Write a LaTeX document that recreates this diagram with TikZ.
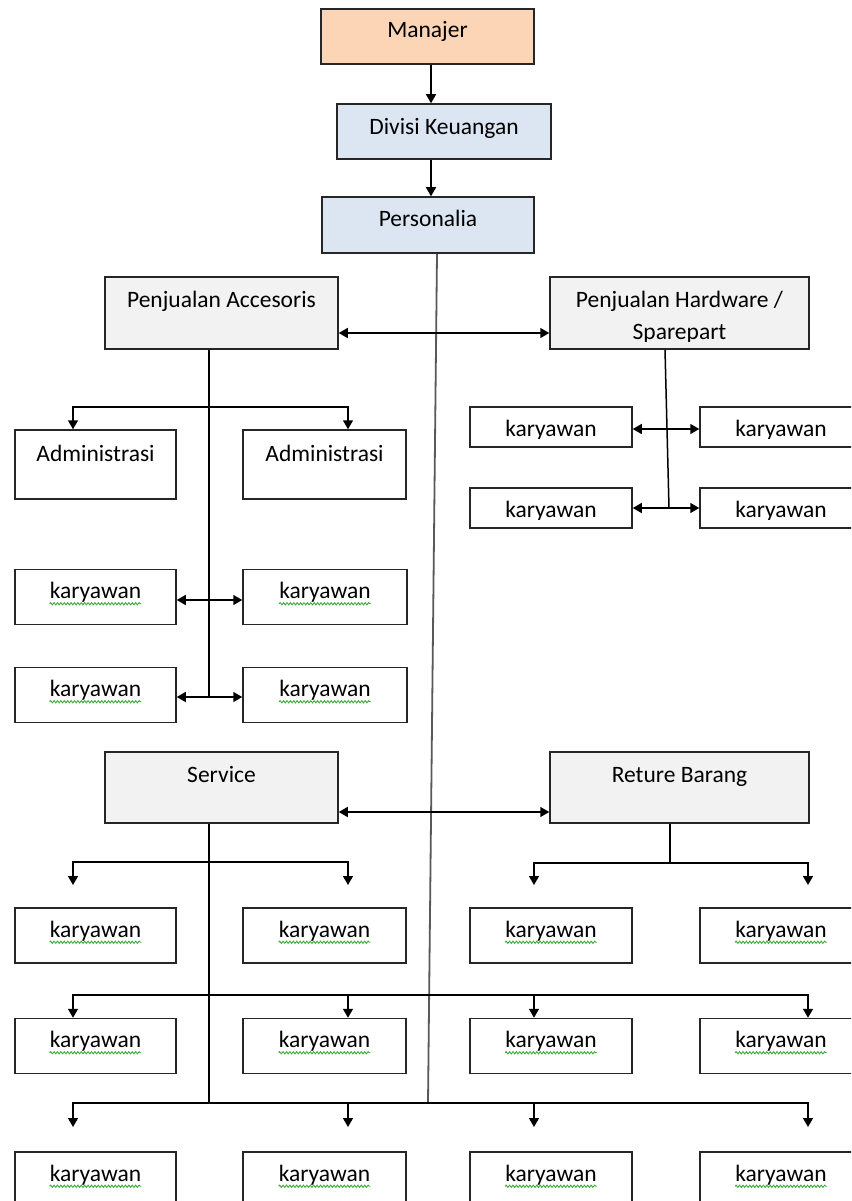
\documentclass[tikz,border=0pt]{standalone}
\usepackage{fontspec}
\setmainfont{Carlito}
\usetikzlibrary{arrows.meta,decorations.pathmorphing}
\definecolor{peach}{HTML}{FBD5B5}
\definecolor{lblue}{HTML}{DCE6F2}
\definecolor{lgray}{HTML}{F2F2F2}
\definecolor{sqgreen}{HTML}{3DAA3D}
\tikzset{
 box/.style={draw=black!85, line width=1.5pt, rectangle, inner sep=0pt, fill=white},
 txt/.style={anchor=base, inner sep=0pt, font=\fontsize{23.5}{28}\selectfont, text=black},
 >={Triangle[length=9pt,width=10pt]},
 ln/.style={line width=1.5pt, draw=black},
 arr/.style={ln, ->},
 dbl/.style={ln, <->},
 trunk/.style={line width=1.8pt, draw=black!65},
 squig/.style={draw=sqgreen, line width=0.9pt, decorate, decoration={snake, amplitude=1.1pt, segment length=3.4pt}},
}
\newcommand\kbox[4]{%
  \node[box, minimum width=#4pt, minimum height=55pt] (#1) at (#2,#3) {};
  \node[txt] (#1t) at ([yshift=-30pt]#1.north) {karyawan};
  \draw[squig] ([yshift=-5pt]#1t.base west) -- ([yshift=-5pt]#1t.base east);
}
\newcommand\hkbox[3]{%
  \node[box, minimum width=162pt, minimum height=40pt] (#1) at (#2,#3) {};
  \begin{scope}
    \clip ([xshift=1pt,yshift=-1pt]#1.north west) rectangle ([xshift=-1pt,yshift=9.5pt]#1.south east);
    \node[txt] (#1t) at ([yshift=-30pt]#1.north) {karyawan};
  \end{scope}
}
\begin{document}
\begin{tikzpicture}[x=1pt,y=-1pt]
\clip (0,0) rectangle (851,1201);
\fill[white] (0,0) rectangle (851,1201);

% top chain
\node[box, fill=peach, minimum width=213pt, minimum height=55pt] (man) at (427.5,36.5) {};
\node[txt] (mant) at ([yshift=-29pt]man.north) {Manajer};
\node[box, fill=lblue, minimum width=214pt, minimum height=55pt] (div) at (444,131.5) {};
\node[txt] (divt) at ([yshift=-31pt]div.north) {Divisi Keuangan};
\node[box, fill=lblue, minimum width=212pt, minimum height=56pt] (pers) at (428,225) {};
\node[txt] (perst) at ([yshift=-30pt]pers.north) {Personalia};

% Penjualan Accesoris group
\node[box, fill=lgray, minimum width=233pt, minimum height=72pt] (acc) at (221.5,313) {};
\node[txt] (acct) at ([yshift=-31pt]acc.north) {Penjualan Accesoris};
\node[box, minimum width=161pt, minimum height=69pt] (adm1) at (95.5,464.5) {};
\node[txt] (adm1t) at ([yshift=-32pt]adm1.north) {Administrasi};
\node[box, minimum width=163pt, minimum height=69pt] (adm2) at (324.5,464.5) {};
\node[txt] (adm2t) at ([yshift=-32pt]adm2.north) {Administrasi};
\kbox{ka1}{95.5}{597}{161}
\kbox{kb1}{325}{597}{164}
\kbox{ka2}{95.5}{695}{161}
\kbox{kb2}{325}{695}{164}

% Penjualan Hardware group
\node[box, fill=lgray, minimum width=259pt, minimum height=72pt] (hw) at (679.5,313) {};
\node[txt] (hwt1) at ([yshift=-31pt]hw.north) {Penjualan Hardware /};
\begin{scope}
  \clip ([xshift=1pt,yshift=-1pt]hw.north west) rectangle ([xshift=-1pt,yshift=8.6pt]hw.south east);
  \node[txt] (hwt2) at ([yshift=-63pt]hw.north) {Sparepart};
\end{scope}
\hkbox{hk1}{551}{427}
\hkbox{hk2}{781}{427}
\hkbox{hk3}{551}{508}
\hkbox{hk4}{781}{508}

% Service / Reture
\node[box, fill=lgray, minimum width=233pt, minimum height=71pt] (srv) at (221.5,787.5) {};
\node[txt] (srvt) at ([yshift=-31pt]srv.north) {Service};
\node[box, fill=lgray, minimum width=259pt, minimum height=71pt] (ret) at (679.5,787.5) {};
\node[txt] (rett) at ([yshift=-31pt]ret.north) {Reture Barang};

\kbox{r1c1}{95.5}{935.5}{161}
\kbox{r1c2}{324.5}{935.5}{163}
\kbox{r1c3}{551}{935.5}{162}
\kbox{r1c4}{781}{935.5}{162}
\kbox{r2c1}{95.5}{1046}{161}
\kbox{r2c2}{324.5}{1046}{163}
\kbox{r2c3}{551}{1046}{162}
\kbox{r2c4}{781}{1046}{162}
\kbox{r3c1}{95.5}{1179.5}{161}
\kbox{r3c2}{324.5}{1179.5}{163}
\kbox{r3c3}{551}{1179.5}{162}
\kbox{r3c4}{781}{1179.5}{162}

% connectors: top chain
\draw[arr] ([xshift=3.5pt]man.south) -- ([xshift=3.5pt]man.south |- div.north);
\draw[arr] ([xshift=-13pt]div.south) -- ([xshift=-13pt]div.south |- pers.north);
\coordinate (trunkend) at (428,1103);
\draw[trunk] ([xshift=9pt]pers.south) -- (trunkend);

% accesoris
\draw[dbl] ([yshift=-20pt]acc.east) -- ([yshift=-20pt]acc.east -| hw.west);
\coordinate (accend) at (209,697);
\draw[ln] ([xshift=-12.5pt]acc.south) -- (accend);
\coordinate (accbr) at (209,407);
\draw[arr] (accbr) -| ([xshift=-22.5pt]adm1.north);
\draw[arr] (accbr) -| ([xshift=23.5pt]adm2.north);
\draw[dbl] ([yshift=-3pt]ka1.east) -- ([yshift=-3pt]kb1.west);
\draw[dbl] ([yshift=-2pt]ka2.east) -- ([yshift=-2pt]kb2.west);

% hardware
\coordinate (hwend) at (669,508);
\draw[ln] ([xshift=-14.5pt]hw.south) -- (hwend);
\draw[dbl] ([yshift=-2pt]hk1.east) -- ([yshift=-2pt]hk2.west);
\draw[dbl] (hk3.east) -- (hk4.west);

% service / reture
\draw[dbl] ([yshift=-24.5pt]srv.east) -- ([yshift=-24.5pt]srv.east -| ret.west);
\coordinate (srvend) at (209,1103);
\draw[ln] ([xshift=-12.5pt]srv.south) -- (srvend);
\coordinate (srvbr) at (209,862);
\coordinate (s1) at (73,885);
\coordinate (s2) at (348,885);
\draw[arr] (srvbr) -| (s1);
\draw[arr] (srvbr) -| (s2);
\coordinate (retbr) at (670,863);
\draw[ln] ([xshift=-9.5pt]ret.south) -- (retbr);
\coordinate (t1) at (534,885);
\coordinate (t2) at (808,885);
\draw[arr] (retbr) -| (t1);
\draw[arr] (retbr) -| (t2);

% row 2 branch
\coordinate (b2) at (429,995);
\draw[arr] (b2) -| ([xshift=-22.5pt]r2c1.north);
\draw[arr] (b2) -| ([xshift=23.5pt]r2c2.north);
\draw[arr] (b2) -| ([xshift=-17pt]r2c3.north);
\draw[arr] (b2) -| ([xshift=27pt]r2c4.north);

% row 3 branch
\coordinate (u1) at (73,1127);
\coordinate (u2) at (348,1127);
\coordinate (u3) at (534,1127);
\coordinate (u4) at (808,1127);
\draw[arr] (trunkend) -| (u1);
\draw[arr] (trunkend) -| (u2);
\draw[arr] (trunkend) -| (u3);
\draw[arr] (trunkend) -| (u4);
\end{tikzpicture}
\end{document}
